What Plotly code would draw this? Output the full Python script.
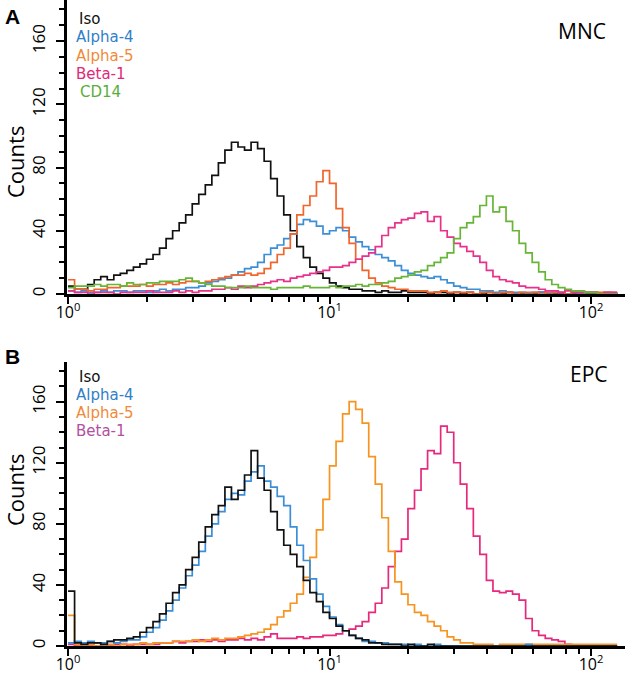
import plotly.graph_objects as go

# ---------------- data ----------------
# histogram channels on a log scale: each channel spans 0.025 decades, starting at 10^0
decades_per_channel = 0.025
channels = list(range(85))

# Panel A (MNC) counts per channel
mnc_iso = [5, 3, 3, 6, 9, 11, 9, 12, 13, 15,
           17, 19, 22, 25, 29, 35, 40, 45, 50, 57,
           63, 69, 75, 83, 91, 96, 93, 91, 96, 92,
           84, 73, 62, 50, 40, 30, 23, 17, 13, 10,
           7, 5, 4, 3, 3, 2, 2, 1, 2, 1,
           1, 2, 1, 1, 1, 0, 1, 1, 0, 1,
           0, 1, 0, 0, 1, 0, 0, 1, 0, 0,
           0, 0, 1, 0, 0, 0, 0, 0, 0, 0,
           0, 0, 0, 0, 0]
mnc_alpha4 = [2, 1, 2, 1, 1, 2, 1, 2, 2, 1,
              2, 2, 1, 2, 3, 2, 3, 3, 4, 4,
              5, 7, 8, 9, 10, 12, 14, 16, 17, 20,
              25, 29, 31, 35, 38, 44, 47, 46, 43, 38,
              40, 42, 40, 36, 33, 30, 28, 25, 23, 21,
              18, 15, 13, 12, 11, 10, 11, 9, 7, 5,
              4, 3, 3, 2, 2, 1, 2, 1, 1, 1,
              0, 1, 1, 0, 1, 1, 0, 1, 0, 1,
              1, 0, 1, 0, 1]
mnc_alpha5 = [9, 3, 3, 2, 3, 3, 4, 4, 5, 5,
              5, 6, 5, 6, 6, 7, 6, 7, 8, 8,
              7, 8, 9, 10, 11, 12, 12, 13, 12, 13,
              16, 20, 25, 29, 38, 50, 56, 62, 71, 78,
              70, 54, 42, 32, 22, 15, 10, 7, 5, 4,
              3, 3, 2, 2, 2, 1, 1, 2, 1, 1,
              1, 1, 0, 1, 1, 0, 1, 1, 0, 1,
              1, 1, 0, 1, 1, 1, 0, 1, 1, 1,
              1, 1, 1, 1, 1]
mnc_beta1 = [2, 1, 1, 0, 1, 1, 1, 0, 1, 1,
             1, 1, 2, 1, 1, 1, 2, 1, 2, 1,
             2, 2, 3, 3, 4, 3, 5, 4, 5, 6,
             7, 8, 9, 8, 10, 11, 12, 13, 14, 15,
             17, 17, 18, 20, 22, 24, 26, 30, 37, 42,
             45, 47, 48, 51, 52, 46, 49, 40, 36, 32,
             30, 27, 24, 20, 15, 11, 9, 8, 7, 5,
             4, 4, 3, 2, 2, 1, 2, 1, 1, 1,
             1, 0, 1, 1, 1]
mnc_cd14 = [4, 5, 5, 5, 6, 5, 6, 6, 5, 7,
            6, 6, 7, 7, 8, 8, 8, 9, 10, 8,
            7, 6, 5, 5, 4, 4, 4, 5, 4, 4,
            4, 3, 4, 4, 4, 4, 5, 4, 4, 4,
            5, 4, 5, 5, 6, 5, 6, 6, 7, 8,
            10, 11, 12, 14, 15, 18, 20, 23, 26, 35,
            42, 45, 49, 56, 62, 52, 55, 46, 40, 32,
            26, 20, 14, 9, 6, 4, 3, 2, 2, 1,
            1, 0, 0, 0, 0]

# Panel B (EPC) counts per channel
epc_iso = [36, 2, 1, 2, 2, 1, 3, 4, 4, 5,
           6, 9, 12, 16, 21, 28, 35, 40, 50, 58,
           68, 78, 86, 92, 104, 96, 102, 112, 128, 110,
           102, 88, 76, 66, 60, 52, 43, 35, 29, 22,
           18, 13, 10, 7, 5, 4, 2, 2, 1, 1,
           1, 0, 1, 0, 0, 1, 0, 0, 0, 0,
           0, 0, 0, 0, 0, 0, 0, 0, 0, 0,
           0, 0, 0, 0, 0, 0, 0, 0, 0, 0,
           0, 0, 0, 0, 0]
epc_alpha4 = [2, 3, 2, 3, 2, 2, 3, 2, 3, 4,
              4, 6, 9, 12, 17, 23, 30, 38, 46, 53,
              62, 72, 80, 88, 96, 100, 99, 108, 114, 118,
              108, 104, 98, 92, 78, 66, 56, 44, 34, 26,
              19, 14, 10, 7, 5, 3, 3, 2, 2, 1,
              1, 1, 0, 1, 0, 0, 1, 0, 0, 0,
              0, 0, 0, 0, 0, 0, 0, 0, 0, 0,
              1, 0, 0, 0, 0, 0, 0, 0, 0, 0,
              0, 0, 0, 0, 0]
epc_alpha5 = [20, 1, 0, 1, 0, 0, 1, 0, 1, 1,
              1, 2, 1, 2, 2, 2, 3, 3, 3, 4,
              3, 4, 5, 4, 5, 5, 6, 7, 8, 9,
              11, 14, 19, 23, 28, 34, 45, 58, 76, 96,
              118, 134, 152, 160, 155, 146, 124, 106, 84, 62,
              42, 34, 27, 22, 20, 16, 13, 10, 6, 4,
              2, 2, 1, 1, 1, 0, 1, 1, 1, 1,
              1, 1, 1, 1, 1, 1, 1, 1, 1, 1,
              1, 1, 1, 1, 1]
epc_beta1 = [1, 0, 1, 0, 0, 1, 0, 1, 1, 0,
             1, 1, 1, 1, 2, 2, 3, 2, 3, 3,
             4, 3, 4, 3, 4, 4, 5, 4, 5, 4,
             6, 8, 5, 5, 5, 6, 5, 6, 6, 7,
             7, 8, 10, 11, 13, 16, 22, 28, 38, 52,
             62, 70, 90, 102, 116, 128, 126, 144, 140, 120,
             106, 90, 72, 60, 43, 36, 35, 36, 34, 30,
             18, 10, 7, 5, 4, 3, 1, 0, 0, 0,
             0, 0, 0, 0, 0]

x_major = [1, 10, 100]
x_major_text = ["10<sup>0</sup>", "10<sup>1</sup>", "10<sup>2</sup>"]
x_minor = [2, 3, 4, 5, 6, 7, 8, 9, 20, 30, 40, 50, 60, 70, 80, 90]
y_major = [0, 40, 80, 120, 160]

# ---------------- figure ----------------
W, H = 625, 676
x = [10 ** (c * decades_per_channel) for c in channels]

top = [("Iso", mnc_iso, "#111111"),
       ("Alpha-4", mnc_alpha4, "#3b8fd6"),
       ("Alpha-5", mnc_alpha5, "#f2652a"),
       ("Beta-1", mnc_beta1, "#e8318a"),
       ("CD14", mnc_cd14, "#67b536")]
bottom = [("Iso", epc_iso, "#111111"),
          ("Alpha-4", epc_alpha4, "#3a8fd8"),
          ("Alpha-5", epc_alpha5, "#f7941f"),
          ("Beta-1", epc_beta1, "#e6297e")]

fig = go.Figure()
for name, ys, col in top:
    fig.add_trace(go.Scatter(x=x, y=ys, mode="lines", name=name,
                             line=dict(color=col, width=1.7, shape="hv"),
                             xaxis="x", yaxis="y"))
for name, ys, col in reversed(bottom):
    fig.add_trace(go.Scatter(x=x, y=ys, mode="lines", name=name,
                             line=dict(color=col, width=1.7, shape="hv"),
                             xaxis="x2", yaxis="y2"))

tickfont = dict(family="Open Sans", size=16, color="black")


def xaxis(anchor):
    return dict(type="log", domain=[67 / W, 1], range=[-0.004, 2.13], anchor=anchor,
                automargin=False,
                showgrid=False, zeroline=False, showline=True, linecolor="black",
                linewidth=3, ticks="outside", ticklen=7, tickwidth=2, tickcolor="black",
                tickmode="array", tickvals=x_major, ticktext=x_major_text,
                tickfont=tickfont, ticklabelstandoff=-5,
                minor=dict(tickmode="array", tickvals=x_minor, ticks="outside",
                           ticklen=5, tickwidth=2, tickcolor="black", showgrid=False))


def yaxis(anchor, dom):
    return dict(domain=dom, range=[0, 186], anchor=anchor, automargin=False,
                showgrid=False, zeroline=False, showline=True, linecolor="black",
                linewidth=3, ticks="outside", ticklen=8, tickwidth=2, tickcolor="black",
                tickmode="array", tickvals=y_major, tickangle=-90,
                tickfont=dict(family="Open Sans", size=17, color="black"),
                ticklabelstandoff=4,
                minor=dict(dtick=10, ticks="outside", ticklen=5, tickwidth=2,
                           tickcolor="black", showgrid=False))


def px(xp, yp):
    return xp / W, 1 - yp / H


annotations = []


def label(text, xp, yp, size, color="black", family="DejaVu Sans", xanchor="left", angle=0):
    xx, yy = px(xp, yp)
    annotations.append(dict(text=text, x=xx, y=yy, xref="paper", yref="paper",
                            xanchor=xanchor, yanchor="middle", showarrow=False,
                            textangle=angle,
                            font=dict(family=family, size=size, color=color)))


label("<b>A</b>", 3, 16, 21, family="Liberation Sans")
label("<b>B</b>", 3, 356, 21, family="Liberation Sans")
label("MNC", 556, 31, 21, family="Open Sans")
label("EPC", 568, 374, 21, family="Open Sans")
label("Counts", 15, 162, 22, family="Open Sans", xanchor="center", angle=-90)
label("Counts", 15, 490, 22, family="Open Sans", xanchor="center", angle=-90)

legend_top = [("Iso", "#111111", 77, 19), ("Alpha-4", "#2f80c8", 74, 37),
              ("Alpha-5", "#f08a3a", 74, 56), ("Beta-1", "#e0287a", 74, 74),
              ("CD14", "#5aae3a", 78, 92)]
for t, c, xp_, yp_ in legend_top:
    label(t, xp_, yp_, 15, color=c)
legend_bot = [("Iso", "#111111", 77, 377), ("Alpha-4", "#2f80c8", 74, 395),
              ("Alpha-5", "#f08a3a", 74, 413), ("Beta-1", "#b2509f", 74, 431)]
for t, c, xp_, yp_ in legend_bot:
    label(t, xp_, yp_, 15, color=c)

fig.update_layout(
    width=W, height=H, margin=dict(l=0, r=0, t=0, b=0, autoexpand=False),
    plot_bgcolor="white", paper_bgcolor="white", showlegend=False,
    xaxis=xaxis("y"), yaxis=yaxis("x", [1 - 294 / H, 1]),
    xaxis2=xaxis("y2"), yaxis2=yaxis("x2", [1 - 646 / H, 1 - 362 / H]),
    annotations=annotations,
)

fig.write_html("out.html", config={"displayModeBar": False},
               post_script="document.body.style.margin='0';document.body.style.overflow='hidden';")
